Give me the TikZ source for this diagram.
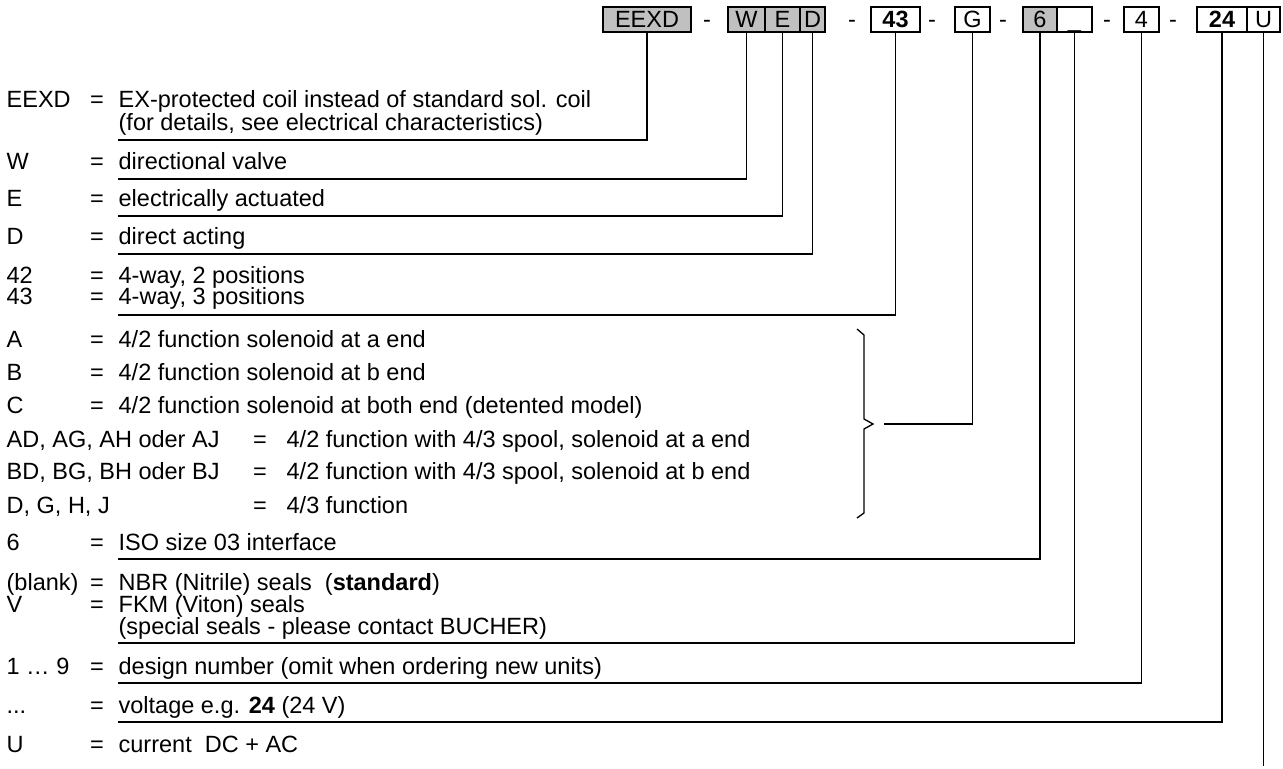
\documentclass[tikz,border=0pt]{standalone}
\usepackage{fontspec}
\setmainfont{Liberation Sans}
\definecolor{codegray}{RGB}{192,192,192}
\usetikzlibrary{positioning,calc}

\begin{document}
\begin{tikzpicture}[x=0.5pt,y=-0.5pt,line width=0.65pt,
    font=\fontsize{11.75}{14}\selectfont,
    codebox/.style={draw,rectangle,inner sep=0pt,minimum height=12.5pt,text height=8.4pt,text depth=0pt},
    graybox/.style={codebox,fill=codegray},
    txt/.style={anchor=base west,inner sep=0pt},
    eq/.style={anchor=base,inner sep=0pt}]

    \useasboundingbox (0,0) rectangle (1283,769);

    \node[graybox,minimum width=44pt] (bEEXD) at (647,19.5) {EEXD};
    \node[graybox,minimum width=18.5pt] (bW) at (746.5,19.5) {W};
    \node[graybox,minimum width=17.5pt] (bE) at (782.5,19.5) {E};
    \node[graybox,minimum width=12.5pt] (bD) at (812.5,19.5) {D};
    \node[codebox,minimum width=24.5pt] (b43) at (895.5,19.5) {\textbf{43}};
    \node[codebox,minimum width=17.5pt] (bG) at (972.5,19.5) {G};
    \node[graybox,minimum width=17pt] (b6) at (1040,19.5) {6};
    \node[codebox,minimum width=17.5pt] (bSeal) at (1074.5,19.5) {\_};
    \node[codebox,minimum width=17.5pt] (b4) at (1141.5,19.5) {4};
    \node[codebox,minimum width=25pt] (b24) at (1222,19.5) {\textbf{24}};
    \node[codebox,minimum width=16.5pt] (bU) at (1263.5,19.5) {U};

    \node[eq] (d1) at (707,27.5) {-};
    \node[eq] (d2) at (852,27.5) {-};
    \node[eq] (d3) at (932,27.5) {-};
    \node[eq] (d4) at (1003,27.5) {-};
    \node[eq] (d5) at (1107,27.5) {-};
    \node[eq] (d6) at (1173,27.5) {-};

    \node[txt] (lEEXD) at (6,108) {EEXD};
    \node[eq] (qEEXD) at (97,108) {=};
    \node[txt] (tEEXD) at (118,108) {EX-protected coil instead of standard sol. coil};
    \node[txt] (tEEXDb) at (118,131) {(for details, see electrical characteristics)};
    \node[txt] (lW) at (6,170) {W};
    \node[eq] (qW) at (97,170) {=};
    \node[txt] (tW) at (118,170) {directional valve};
    \node[txt] (lE) at (6,207) {E};
    \node[eq] (qE) at (97,207) {=};
    \node[txt] (tE) at (118,207) {electrically actuated};
    \node[txt] (lD) at (6,245) {D};
    \node[eq] (qD) at (97,245) {=};
    \node[txt] (tD) at (118,245) {direct acting};
    \node[txt] (l42) at (6,284) {42};
    \node[eq] (q42) at (97,284) {=};
    \node[txt] (t42) at (118,284) {4-way, 2 positions};
    \node[txt] (l43) at (6,305) {43};
    \node[eq] (q43) at (97,305) {=};
    \node[txt] (t43) at (118,305) {4-way, 3 positions};
    \node[txt] (lA) at (6,348) {A};
    \node[eq] (qA) at (97,348) {=};
    \node[txt] (tA) at (118,348) {4/2 function solenoid at a end};
    \node[txt] (lB) at (6,381) {B};
    \node[eq] (qB) at (97,381) {=};
    \node[txt] (tB) at (118,381) {4/2 function solenoid at b end};
    \node[txt] (lC) at (6,414) {C};
    \node[eq] (qC) at (97,414) {=};
    \node[txt] (tC) at (118,414) {4/2 function solenoid at both end (detented model)};
    \node[txt] (lAD) at (6,447) {AD, AG, AH oder AJ};
    \node[eq] (qAD) at (260,447) {=};
    \node[txt] (tAD) at (286,447) {4/2 function with 4/3 spool, solenoid at a end};
    \node[txt] (lBD) at (6,480) {BD, BG, BH oder BJ};
    \node[eq] (qBD) at (260,480) {=};
    \node[txt] (tBD) at (286,480) {4/2 function with 4/3 spool, solenoid at b end};
    \node[txt] (lDG) at (6,513) {D, G, H, J};
    \node[eq] (qDG) at (260,513) {=};
    \node[txt] (tDG) at (286,513) {4/3 function};
    \node[txt] (l6) at (6,550) {6};
    \node[eq] (q6) at (97,550) {=};
    \node[txt] (t6) at (118,550) {ISO size 03 interface};
    \node[txt] (lNBR) at (6,590) {(blank)};
    \node[eq] (qNBR) at (97,590) {=};
    \node[txt] (tNBR) at (118,590) {NBR (Nitrile) seals\ \ (\textbf{standard})};
    \node[txt] (lV) at (6,612) {V};
    \node[eq] (qV) at (97,612) {=};
    \node[txt] (tV) at (118,612) {FKM (Viton) seals};
    \node[txt] (tVb) at (118,634) {(special seals - please contact BUCHER)};
    \node[txt] (l19) at (6,674) {1 … 9};
    \node[eq] (q19) at (97,674) {=};
    \node[txt] (t19) at (118,674) {design number (omit when ordering new units)};
    \node[txt] (lVolt) at (6,713) {...};
    \node[eq] (qVolt) at (97,713) {=};
    \node[txt] (tVolt) at (118,713) {voltage e.g. \textbf{24} (24 V)};
    \node[txt] (lU) at (6,752) {U};
    \node[eq] (qU) at (97,752) {=};
    \node[txt] (tU) at (118,752) {current\ \ DC + AC};

    \coordinate (uEEXD) at (118,140);
    \coordinate (uW) at (118,179);
    \coordinate (uE) at (118,216);
    \coordinate (uD) at (118,254);
    \coordinate (u43) at (118,315);
    \coordinate (uBrace) at (884,424);
    \coordinate (u6) at (118,559);
    \coordinate (uSeal) at (118,643);
    \coordinate (u4) at (118,683);
    \coordinate (u24) at (118,722);
    \coordinate (uU) at (1263.5,766);

    \draw (uEEXD) -| (bEEXD);
    \draw (uW) -| (bW);
    \draw (uE) -| (bE);
    \draw (uD) -| (bD);
    \draw (u43) -| (b43);
    \draw (uBrace) -| (bG);
    \draw (u6) -| (b6);
    \draw (uSeal) -| (bSeal);
    \draw (u4) -| (b4);
    \draw (u24) -| (b24);
    \draw (uU) -- (bU);

    \draw (857,329) -- (864,335) -- (864,419) -- (873,424) -- (864,429) -- (864,513) -- (857,518);
\end{tikzpicture}
\end{document}
